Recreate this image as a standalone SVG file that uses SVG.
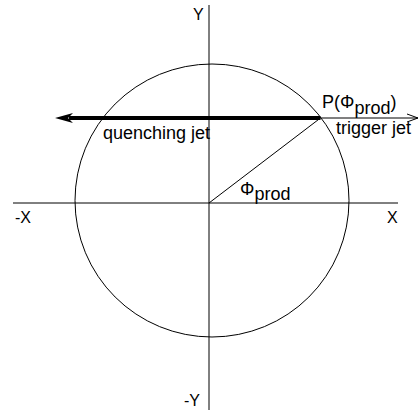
<svg xmlns="http://www.w3.org/2000/svg" width="419" height="410" viewBox="0 0 419 410">
<style>
text{font-family:"Liberation Sans",Arial,sans-serif;fill:#000;font-size:18px}
text.axl{font-size:16px}
.ax{stroke:#000;stroke-width:1;fill:none}
</style>
<defs>
<marker id="fill" viewBox="0 0 18 10" refX="4" refY="5" markerWidth="18" markerHeight="10" orient="auto" markerUnits="userSpaceOnUse">
<path d="M0,0 L18,5 L0,10 L5,5 Z" fill="#000"/>
</marker>
</defs>
<rect width="419" height="410" fill="#fff"/>
<g id="axes">
<line class="ax" x1="209" y1="5" x2="209" y2="410"/>
<line class="ax" x1="13" y1="203" x2="398" y2="203"/>
</g>
<g id="circle"><ellipse class="ax" cx="212" cy="200.5" rx="137" ry="136.5"/></g>
<g id="connectors">
<line class="ax" x1="209" y1="203" x2="320.5" y2="118"/>
<line x1="320.5" y1="118" x2="69" y2="118" stroke="#000" stroke-width="4" marker-end="url(#fill)"/>
<line class="ax" x1="320.5" y1="118" x2="418" y2="118"/>
<polyline class="ax" points="407,114 418,118 407,122"/>
</g>
<g id="labels">
<text class="axl" x="193" y="20">Y</text>
<text class="axl" x="184" y="406">-Y</text>
<text class="axl" x="15" y="223">-X</text>
<text class="axl" x="387" y="223">X</text>
<text x="322" y="108">P(Φ<tspan dy="6">prod</tspan><tspan dy="-6">)</tspan></text>
<text x="336" y="134">trigger jet</text>
<text x="103" y="139">quenching jet</text>
<text x="240" y="195">Φ<tspan dy="5">prod</tspan></text>
</g>
</svg>
